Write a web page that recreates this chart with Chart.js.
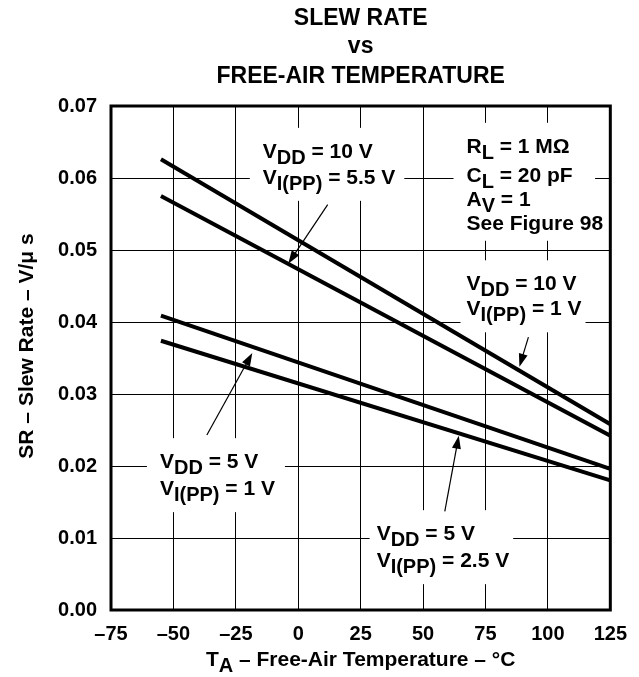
<!DOCTYPE html>
<html>
<head>
<meta charset="utf-8">
<title>Slew Rate vs Free-Air Temperature</title>
<script src="https://cdn.jsdelivr.net/npm/chart.js@4.4.1/dist/chart.umd.min.js"></script>
<style>
  html, body { margin: 0; padding: 0; background: #fff; }
  canvas { display: block; }
</style>
</head>
<body>
<canvas id="srChart" width="639" height="677"></canvas>
<script>
  'use strict';

  // Free-air temperature at the ends of each curve, °C
  const temps = [-55, 125];

  // Slew rate in V/us, one array per supply / input swing
  const srVdd10Vi1 = [0.0626, 0.0258];
  const srVdd10Vi55 = [0.0575, 0.0242];
  const srVdd5Vi1 = [0.0409, 0.0196];
  const srVdd5Vi25 = [0.0374, 0.0180];

  // Axis ticks
  const xTicks = [-75, -50, -25, 0, 25, 50, 75, 100, 125];
  const yTicks = [0, 0.01, 0.02, 0.03, 0.04, 0.05, 0.06, 0.07];

  const FAMILY = '"Liberation Sans", Arial, Helvetica, sans-serif';
  const MAIN_FONT = 'bold 21px ' + FAMILY;
  const SUB_FONT = 'bold 20px ' + FAMILY;
  const SUB_SHIFT = 6;

  // Curve labels: anchor is [T, SR] of the first baseline's left end,
  // dy is each line's baseline offset in px. _{..} marks a subscript.
  const notes = [
    { at: [-14.2, 0.0628], padL: 13, padR: 9,
      lines: [['V_{DD} = 10 V', 0], ['V_{I(PP)} = 5.5 V', 26]] },
    { at: [67.4, 0.0635], padL: 13, padR: -8,
      lines: [['R_{L} = 1 M\u03A9', 0], ['C_{L} = 20 pF', 29], ['A_{V} = 1', 53], ['See Figure 98', 77]] },
    { at: [67.4, 0.0444], padL: 6, padR: 4,
      lines: [['V_{DD} = 10 V', 0], ['V_{I(PP)} = 1 V', 25]] },
    { at: [-55.4, 0.0197], padL: 13, padR: 10,
      lines: [['V_{DD} = 5 V', 0], ['V_{I(PP)} = 1 V', 27]] },
    { at: [31.4, 0.0097], padL: 7, padR: 4,
      lines: [['V_{DD} = 5 V', 0], ['V_{I(PP)} = 2.5 V', 27]] }
  ];

  // Leader arrows: [tail, tip] in [T, SR]
  const arrows = [
    [[11.8, 0.0563], [-4.0, 0.0481]],
    [[92.2, 0.0379], [88.6, 0.0338]],
    [[-36.6, 0.0243], [-18.4, 0.0357]],
    [[58.7, 0.0137], [64.3, 0.0242]]
  ];

  const toPoints = (ys) => temps.map((t, i) => ({ x: t, y: ys[i] }));

  /**
   * Draw a string with _{...} subscripts, returns the end x.
   */
  const drawRich = (ctx, str, x, y, measureOnly) => {
    const parts = str.split(/_\{([^}]*)\}/);
    parts.forEach((p, i) => {
      if (!p) return;
      const sub = i % 2 === 1;
      ctx.font = sub ? SUB_FONT : MAIN_FONT;
      if (!measureOnly) ctx.fillText(p, x, y + (sub ? SUB_SHIFT : 0));
      x += ctx.measureText(p).width;
    });
    return x;
  };

  const hasSub = (str) => str.indexOf('_{') !== -1;

  const notePixel = (chart, at) => ({
    x: chart.scales.x.getPixelForValue(at[0]),
    y: chart.scales.y.getPixelForValue(at[1])
  });

  /**
   * White-out behind labels, frame, labels, arrows, titles
   */
  const annotations = {
    id: 'annotations',
    beforeDraw(chart) {
      const ctx = chart.ctx;
      ctx.save();
      ctx.fillStyle = '#fff';
      ctx.fillRect(0, 0, chart.width, chart.height);
      ctx.restore();
    },
    beforeDatasetsDraw(chart) {
      const ctx = chart.ctx;
      const area = chart.chartArea;
      ctx.save();
      ctx.fillStyle = '#fff';
      notes.forEach((n) => {
        const p = notePixel(chart, n.at);
        let w = 0;
        n.lines.forEach(([s]) => { w = Math.max(w, drawRich(ctx, s, 0, 0, true)); });
        const last = n.lines[n.lines.length - 1];
        const top = p.y - 30;
        const bottom = p.y + last[1] + (hasSub(last[0]) ? 17 : 11);
        const left = Math.max(area.left + 2, p.x - n.padL);
        const right = Math.min(area.right - 2, p.x + w + n.padR);
        ctx.fillRect(left, top, right - left, bottom - top);
      });
      // plot frame
      ctx.strokeStyle = '#000';
      ctx.lineWidth = 3;
      ctx.strokeRect(area.left, area.top, area.right - area.left, area.bottom - area.top);
      ctx.restore();
    },
    afterDatasetsDraw(chart) {
      const ctx = chart.ctx;
      const area = chart.chartArea;
      ctx.save();
      ctx.fillStyle = '#000';
      ctx.strokeStyle = '#000';
      ctx.textBaseline = 'alphabetic';
      ctx.textAlign = 'left';

      notes.forEach((n) => {
        const p = notePixel(chart, n.at);
        n.lines.forEach(([s, dy]) => drawRich(ctx, s, p.x, p.y + dy));
      });

      arrows.forEach(([tail, tip]) => {
        const a = notePixel(chart, tail);
        const b = notePixel(chart, tip);
        const ang = Math.atan2(b.y - a.y, b.x - a.x);
        const len = 13, half = 4.5;
        ctx.lineWidth = 1.2;
        ctx.beginPath();
        ctx.moveTo(a.x, a.y);
        ctx.lineTo(b.x - Math.cos(ang) * len * 0.6, b.y - Math.sin(ang) * len * 0.6);
        ctx.stroke();
        ctx.beginPath();
        ctx.moveTo(b.x, b.y);
        ctx.lineTo(b.x - Math.cos(ang) * len - Math.sin(ang) * half,
                   b.y - Math.sin(ang) * len + Math.cos(ang) * half);
        ctx.lineTo(b.x - Math.cos(ang) * len + Math.sin(ang) * half,
                   b.y - Math.sin(ang) * len - Math.cos(ang) * half);
        ctx.closePath();
        ctx.fill();
      });

      // chart title
      const cx = (area.left + area.right) / 2;
      ctx.textAlign = 'center';
      ctx.font = 'bold 23px ' + FAMILY;
      ctx.fillText('SLEW RATE', cx, 25);
      ctx.fillText('vs', cx, 53);
      ctx.fillText('FREE-AIR TEMPERATURE', cx, 83);

      // x axis title
      ctx.textAlign = 'left';
      const xTitle = 'T_{A} \u2013 Free-Air Temperature \u2013 \u00B0C';
      const tw = drawRich(ctx, xTitle, 0, 0, true);
      drawRich(ctx, xTitle, cx - tw / 2, area.bottom + 56);

      // y axis title
      ctx.save();
      ctx.translate(33, (area.top + area.bottom) / 2 - 12);
      ctx.rotate(-Math.PI / 2);
      ctx.textAlign = 'center';
      ctx.font = MAIN_FONT;
      ctx.fillText('SR \u2013 Slew Rate \u2013 V/\u03BC s', 0, 0);
      ctx.restore();

      ctx.restore();
    }
  };

  const lineStyle = {
    borderColor: '#000',
    borderWidth: 4,
    pointRadius: 0,
    fill: false,
    tension: 0
  };

  const ctx = document.getElementById('srChart');
  new Chart(ctx, {
    type: 'line',
    data: {
      datasets: [
        { label: 'VDD = 10 V, VI(PP) = 1 V', data: toPoints(srVdd10Vi1), ...lineStyle },
        { label: 'VDD = 10 V, VI(PP) = 5.5 V', data: toPoints(srVdd10Vi55), ...lineStyle },
        { label: 'VDD = 5 V, VI(PP) = 1 V', data: toPoints(srVdd5Vi1), ...lineStyle },
        { label: 'VDD = 5 V, VI(PP) = 2.5 V', data: toPoints(srVdd5Vi25), ...lineStyle }
      ]
    },
    options: {
      responsive: false,
      animation: false,
      devicePixelRatio: 1,
      layout: { padding: { top: 106, right: 28, bottom: 0, left: 0 } },
      plugins: {
        legend: { display: false },
        tooltip: { enabled: false },
        title: { display: false }
      },
      scales: {
        x: {
          type: 'linear',
          min: -75,
          max: 125,
          afterBuildTicks: (scale) => { scale.ticks = xTicks.map((v) => ({ value: v })); },
          afterFit: (scale) => { scale.height = 67; },
          grid: { color: '#000', lineWidth: 1, drawTicks: false },
          border: { display: false },
          ticks: {
            color: '#000',
            padding: 12,
            maxRotation: 0,
            font: { family: FAMILY, size: 20, weight: 'bold' },
            callback: (v) => (v < 0 ? '\u2013' + Math.abs(v) : String(v))
          }
        },
        y: {
          min: 0,
          max: 0.07,
          afterBuildTicks: (scale) => { scale.ticks = yTicks.map((v) => ({ value: v })); },
          afterFit: (scale) => { scale.width = 111; },
          grid: { color: '#000', lineWidth: 1, drawTicks: false },
          border: { display: false },
          ticks: {
            color: '#000',
            padding: 14,
            font: { family: FAMILY, size: 20, weight: 'bold' },
            callback: (v) => v.toFixed(2)
          }
        }
      }
    },
    plugins: [annotations]
  });
</script>
</body>
</html>
